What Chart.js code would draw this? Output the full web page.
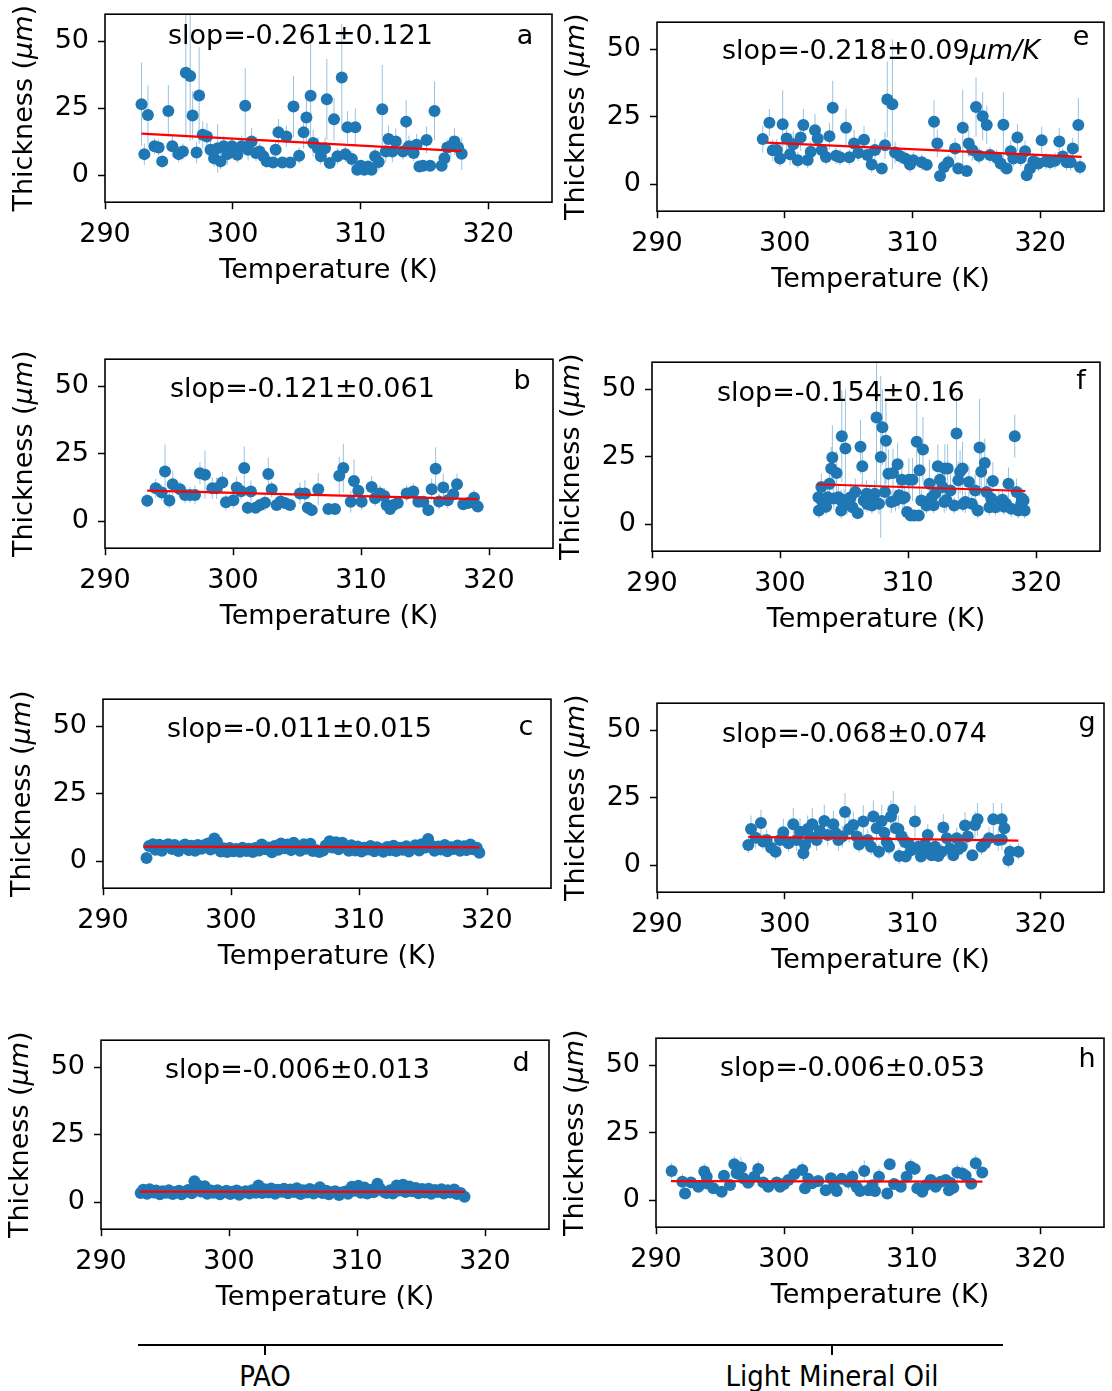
<!DOCTYPE html>
<html><head><meta charset="utf-8">
<script src="https://cdn.jsdelivr.net/npm/chart.js@4.4.0/dist/chart.umd.min.js"></script>
<style>
html,body{margin:0;padding:0;background:#fff;}
body{width:1112px;height:1391px;position:relative;overflow:hidden;}
canvas{position:absolute;}
.grp{position:absolute;font-family:"DejaVu Sans Condensed","DejaVu Sans",sans-serif;font-stretch:condensed;font-size:29px;line-height:1;color:#000;transform:translate(-50%,-50%);white-space:nowrap;}
</style></head><body>
<div style="position:absolute;left:138px;top:1344px;width:865px;height:0;border-top:2px solid #000"></div>
<div style="position:absolute;left:264px;top:1345px;width:2px;height:10px;background:#000"></div>
<div style="position:absolute;left:831px;top:1345px;width:2px;height:10px;background:#000"></div>
<div class="grp" style="left:265px;top:1376px">PAO</div>
<div class="grp" style="left:832px;top:1376px">Light Mineral Oil</div>
<script>
// ---- data: [temperature K, thickness µm, error µm] ----
const xTicks = [290, 300, 310, 320];
const yTicks = [0, 25, 50];

const aPts = [[292.86,26.5,15.5],[293.08,7.9,4],[293.36,22.5,11],[293.87,10.8,3],[294.2,10.4,3],[294.48,5.2,2],[294.96,24,9.6],[295.27,10.8,4],[295.77,7.9,3],[296.1,8.9,3],[296.33,38.2,24],[296.67,37,24],[296.86,22.3,9],[297.17,8.5,4],[297.37,29.7,18],[297.65,15.1,5],[297.98,14.5,5],[298.26,9.5,4],[298.54,6.4,3],[298.82,10.1,9],[299.05,5.2,3],[299.3,10.8,4],[299.58,7.9,4],[299.94,10.8,3],[300.36,7.7,3],[300.7,10.8,4],[300.98,25.9,14],[301.2,9.5,4],[301.48,12.6,5],[301.82,8.3,3],[302.1,8.9,3],[302.4,7.1,3],[302.66,5.2,2],[303.16,4.8,2],[303.36,9.5,3],[303.58,16,5],[303.89,4.8,2],[304.2,14.5,4],[304.5,4.8,2],[304.76,25.6,11.5],[305.2,7.3,3],[305.55,16,6],[305.77,21.5,9],[306.1,29.6,20],[306.3,12,5],[306.67,10.1,4],[306.9,7.1,3],[307.23,10.1,4],[307.37,28.3,15],[307.6,4.6,2],[307.93,20.9,8],[308.2,7.1,3],[308.54,36.4,20],[308.82,7.9,3],[308.99,17.9,6],[309.33,6.1,3],[309.6,17.9,7],[309.75,2.1,2],[310.03,3.6,2],[310.3,2.1,2],[310.6,3.3,2],[310.87,2.1,2],[311.15,7.1,3],[311.43,5,3],[311.71,24.6,16.5],[311.99,8.9,4],[312.2,13.5,5],[312.5,8.9,4],[312.77,12.6,5],[313.33,8.9,3],[313.58,20,8],[313.8,10.8,4],[314.17,8.3,3],[314.4,11.4,4],[314.62,3.3,2],[314.9,3.6,2],[315.18,13.2,5],[315.46,3.6,2],[315.8,24,11],[316.36,3.6,2],[316.58,6.4,3],[316.8,10.4,3],[317.08,10.8,4],[317.36,12.6,5],[317.65,10.4,4],[317.93,8,6]];
const aFit = [[292.86,15.5],[317.93,9.0]];

const bPts = [[293.3,7.6,2.5],[293.96,12.2,3.5],[294.43,10.6,3],[294.69,18.4,10],[295.03,7.7,3],[295.29,13.7,5],[295.86,11.8,3],[296.25,9.7,3],[296.64,9.7,3],[297.03,9.7,3.5],[297.42,17.8,4],[297.81,17.2,9],[298.38,12.2,4],[298.72,12.2,4],[299.17,14.3,4],[299.45,7,3],[300.03,7.8,3],[300.29,12.5,4],[300.63,11.1,3],[300.88,19.7,8],[301.15,5,2.5],[301.4,11,4],[301.77,5,2],[302.11,6,2],[302.5,6.8,3],[302.76,17.5,6],[303.02,11.8,3],[303.41,6,2],[303.72,7.3,3],[304.06,6.7,2],[304.45,6,2],[305.23,10.3,4],[305.62,10.3,5],[305.84,5,2],[306.15,4.1,2],[306.66,11.8,6],[307.45,4.5,2],[307.97,4.5,2],[308.3,16.8,7],[308.62,19.7,9],[309.2,7.2,4],[309.45,14.9,8],[309.79,11.3,4],[310.05,7.2,3],[310.83,12.7,4],[311.1,8.5,3],[311.48,10.3,3],[311.82,9.3,3],[312.0,6,2],[312.27,4.5,2],[312.53,6,2],[312.87,6.7,2],[313.57,10.3,3],[314.09,11,3],[314.48,7.2,2],[314.87,7.2,2],[315.26,4.1,2],[315.52,11.8,4],[315.83,19.4,8],[316.1,7.3,3],[316.43,12.5,5],[316.77,7.8,3],[317.21,10,3],[317.5,13.7,4],[317.99,6.3,2],[318.38,6.7,2],[318.83,8.7,3],[319.12,5.4,2]];
const bFit = [[293.3,11.3],[319.12,8.2]];

const cPts = [[293.4,1.2,1.0],[293.6,5.6,1.2],[293.9,6.3,1.0],[294.1,4.2,0.8],[294.4,6.1,1.1],[294.6,3.9,0.8],[294.9,5.8,1.0],[295.1,6.3,1.2],[295.4,4.5,0.9],[295.6,6.0,1.0],[295.9,3.8,0.8],[296.2,5.4,1.0],[296.4,6.2,1.1],[296.7,4.1,0.8],[296.9,5.7,1.0],[297.2,3.9,0.8],[297.4,6.0,1.1],[297.7,4.6,0.9],[297.9,5.9,1.0],[298.2,6.6,1.3],[298.4,4.3,0.9],[298.7,8.4,1.8],[298.9,7.2,1.4],[299.2,3.6,0.8],[299.4,4.8,0.9],[299.7,3.4,0.7],[299.9,4.9,0.9],[300.2,3.7,0.8],[300.4,4.5,0.9],[300.7,3.5,0.7],[300.9,5.0,1.0],[301.2,3.8,0.8],[301.4,4.6,0.9],[301.7,3.4,0.7],[301.9,4.9,1.0],[302.2,4.0,0.8],[302.4,6.2,1.3],[302.7,4.4,0.9],[302.9,5.1,1.0],[303.2,3.3,0.7],[303.4,5.6,1.1],[303.7,4.2,0.8],[303.9,6.6,1.3],[304.2,4.8,0.9],[304.4,6.2,1.2],[304.7,4.1,0.8],[304.9,6.8,1.4],[305.2,5.2,1.0],[305.4,3.9,0.8],[305.7,6.3,1.2],[305.9,4.6,0.9],[306.2,6.5,1.3],[306.4,3.8,0.8],[306.7,4.1,0.8],[306.9,3.4,0.7],[307.2,4.0,0.8],[307.4,5.8,1.1],[307.7,7.4,1.5],[307.9,5.1,1.0],[308.2,7.0,1.4],[308.4,4.4,0.9],[308.7,6.8,1.3],[308.9,5.5,1.1],[309.2,3.9,0.8],[309.4,5.9,1.1],[309.7,4.0,0.8],[309.9,5.4,1.0],[310.2,3.6,0.7],[310.4,5.0,1.0],[310.7,4.3,0.9],[310.9,5.6,1.1],[311.2,3.7,0.8],[311.4,5.2,1.0],[311.7,4.5,0.9],[311.9,3.5,0.7],[312.2,5.3,1.0],[312.4,4.1,0.8],[312.7,5.7,1.1],[312.9,3.8,0.8],[313.2,5.0,1.0],[313.4,4.2,0.8],[313.7,5.5,1.1],[313.9,3.6,0.7],[314.2,4.9,1.0],[314.4,5.9,1.2],[314.7,4.0,0.8],[314.9,6.3,1.3],[315.2,5.1,1.0],[315.4,8.2,1.8],[315.7,5.6,1.1],[315.9,3.9,0.8],[316.2,5.4,1.0],[316.4,4.3,0.9],[316.7,6.0,1.2],[316.9,3.7,0.8],[317.2,5.2,1.0],[317.4,4.5,0.9],[317.7,5.8,1.1],[317.9,3.9,0.8],[318.2,5.5,1.1],[318.4,4.1,0.8],[318.7,6.2,1.2],[318.9,4.4,0.9],[319.2,5.0,1.0],[319.4,3.1,0.8]];
const cFit = [[293.15,5.4],[319.4,5.1]];

const dPts = [[293.1,3.4,1],[293.3,4.6,1],[293.6,3.1,0.8],[293.8,4.8,1],[294.1,3.6,0.8],[294.3,4.3,1],[294.6,2.9,0.8],[294.8,4.1,1],[295.1,3.5,0.8],[295.3,4.4,1],[295.6,3.0,0.8],[295.8,3.8,0.9],[296.1,4.2,1],[296.3,2.9,0.8],[296.6,3.9,0.9],[296.8,4.5,1],[297.1,3.3,0.8],[297.3,7.8,1.6],[297.6,6.2,1.3],[297.8,4.0,0.9],[298.1,5.9,1.2],[298.3,3.1,0.8],[298.6,4.3,1],[298.8,3.5,0.8],[299.1,4.4,1],[299.3,2.9,0.8],[299.6,3.7,0.9],[299.8,4.2,1],[300.1,3.0,0.8],[300.3,3.9,0.9],[300.6,4.3,1],[300.8,2.8,0.8],[301.1,3.6,0.9],[301.3,4.1,1],[301.6,3.2,0.8],[301.8,4.4,1],[302.1,3.5,0.8],[302.3,6.2,1.3],[302.6,3.4,0.8],[302.8,4.8,1],[303.1,3.6,0.8],[303.3,5.1,1.1],[303.6,3.1,0.8],[303.8,4.6,1],[304.1,3.9,0.9],[304.3,5.0,1.1],[304.6,3.3,0.8],[304.8,4.7,1],[305.1,3.8,0.9],[305.3,5.2,1.1],[305.6,3.0,0.8],[305.8,4.4,1],[306.1,3.6,0.8],[306.3,4.9,1],[306.6,3.2,0.8],[306.8,4.5,1],[307.1,5.5,1.2],[307.3,3.4,0.8],[307.6,4.2,1],[307.8,2.9,0.8],[308.1,3.8,0.9],[308.3,4.1,1],[308.6,2.7,0.8],[308.8,3.6,0.9],[309.1,4.0,0.9],[309.3,3.1,0.8],[309.6,5.7,1.2],[309.8,4.2,1],[310.1,6.1,1.3],[310.3,3.5,0.8],[310.6,5.4,1.1],[310.8,3.2,0.8],[311.1,4.6,1],[311.3,3.7,0.9],[311.6,6.8,1.4],[311.8,5.0,1.1],[312.1,3.9,0.9],[312.3,3.4,0.8],[312.6,4.4,1],[312.8,3.2,0.8],[313.1,6.2,1.3],[313.3,4.3,1],[313.6,6.5,1.3],[313.8,3.8,0.9],[314.1,5.8,1.2],[314.3,4.1,1],[314.6,5.3,1.1],[314.8,3.3,0.8],[315.1,4.9,1],[315.3,3.6,0.8],[315.6,5.0,1.1],[315.8,3.1,0.8],[316.1,4.5,1],[316.3,3.8,0.9],[316.6,4.8,1],[316.8,3.2,0.8],[317.1,4.4,1],[317.3,3.6,0.8],[317.6,4.7,1],[317.8,3.0,0.8],[318.1,3.4,0.8],[318.4,2.0,0.8]];
const dFit = [[293.05,3.95],[318.4,3.8]];

const ePts = [[298.28,16.7,5],[298.8,22.8,5],[299.06,12.6,4],[299.37,12.7,4],[299.63,9.5,3],[299.84,22.2,12.6],[300.15,16.9,5],[300.42,11.1,4],[300.67,14.8,5],[301.02,8.9,3],[301.25,17.3,5],[301.46,21.9,6],[301.8,9,3],[302.04,12,4],[302.37,20,6],[302.58,16.9,5],[302.9,12.7,4],[303.23,10.1,3],[303.5,17.8,5],[303.76,28.3,10],[304.02,10.5,3],[304.33,10,3],[304.8,20.9,7],[305.06,10,3],[305.43,15.1,5],[305.76,11.6,3],[306.21,16.5,5],[306.47,10.8,3],[306.81,7.3,3],[307.07,12.7,4],[307.6,5.8,2],[307.85,14.4,5],[308.03,31.4,14],[308.43,29.6,24],[308.64,11.7,4],[309.03,10.4,3],[309.42,9.5,3],[309.81,7.3,3],[310.07,8.9,3],[310.73,8.1,3],[311.12,7.2,2],[311.69,23.1,8],[311.95,15.1,5],[312.16,3,2],[312.47,6.4,2],[312.81,8.1,3],[313.34,13.2,4],[313.59,5.8,2],[313.94,20.9,14],[314.25,4.9,2],[314.41,15.1,5],[314.69,12.7,4],[314.98,28.6,11],[315.22,10.5,3],[315.5,25.2,9],[315.82,21.9,7],[316.08,10.8,3],[316.6,9.8,3],[316.91,7.7,3],[317.12,22,12],[317.38,5.8,2],[317.7,12.2,4],[317.9,9.5,3],[318.22,17.3,5],[318.48,9.6,3],[318.82,12.2,4],[318.95,3.3,2],[319.21,5.8,2],[319.47,8.5,3],[319.86,7.7,3],[320.12,16.3,5],[320.46,8.5,3],[320.78,8.1,3],[321.17,8.7,3],[321.5,15.8,5],[321.77,10.3,3],[322.08,8.1,3],[322.39,8.1,3],[322.55,13.2,4],[322.99,21.9,10],[323.12,6.4,3]];
const eFit = [[298.59,15.4],[323.26,10.1]];

const fPts = [[303.0,10,4],[303.04,5.1,3],[303.23,13.8,5],[303.3,8.5,4],[303.45,8.2,4],[303.6,6.5,3],[303.73,10,5],[303.87,15,6],[304.0,20.6,8],[304.09,24.7,12],[304.2,9.5,4],[304.42,19,8],[304.56,10,5],[304.78,8.8,4],[304.83,32.6,17],[304.78,5.1,3],[305.0,9.0,4],[305.11,28,22],[305.25,7.6,4],[305.52,10,5],[305.66,6.3,3],[305.88,11.9,5],[306.07,4.1,2],[306.29,28.7,10],[306.43,21.5,7],[306.54,8.8,4],[306.76,11.3,5],[306.8,7.5,3],[306.96,9.1,4],[307.0,10.5,4],[307.18,6.9,3],[307.4,11.3,5],[307.54,39.5,25],[307.73,7.6,4],[307.87,24.9,30],[308.0,35.9,14],[308.2,11.9,5],[308.28,30.9,16],[308.47,18.7,9],[308.69,8.2,4],[308.83,19,9],[309.02,8.8,4],[309.19,22.2,8],[309.3,10.7,5],[309.52,16.5,7],[309.6,9.5,4],[309.74,10,5],[309.93,4.5,2],[310.07,16.5,8],[310.21,3.2,2],[310.35,16.5,8],[310.49,3.2,2],[310.68,30.5,15],[310.84,3.2,2],[310.9,20,9],[311.04,8.8,4],[311.17,27.7,12],[311.45,6.9,3],[311.67,15,9],[311.86,10,5],[312.0,7.0,3],[312.14,11.5,5],[312.33,21.5,8],[312.5,16.5,7],[312.69,13.8,6],[312.83,8.2,4],[312.88,20.6,9],[313.0,9.0,4],[313.1,20.6,9],[313.32,12.5,6],[313.6,6.9,3],[313.79,33.6,14],[313.93,16.3,7],[314.07,19.4,8],[314.26,20.6,10],[314.3,7.5,3],[314.48,8.2,4],[314.76,15.6,6],[314.98,7.6,3],[315.25,12.5,6],[315.45,5.1,3],[315.59,28.4,18],[315.72,19.4,8],[316.0,22.7,9],[316.14,11.9,5],[316.36,6.3,3],[316.5,9.5,4],[316.63,16,7],[316.83,6.3,3],[317.1,8.2,4],[317.38,9.1,4],[317.5,6.5,3],[317.65,7.6,3],[317.85,15,6],[318.07,5.7,3],[318.34,32.6,8],[318.48,11.9,5],[318.62,5.1,3],[318.84,7.6,3],[318.9,9.5,4],[319.03,8.8,4],[319.11,5.1,3]];
const fFit = [[302.9,14.8],[319.17,12.3]];

const gPts = [[297.15,7.5,3],[297.36,13.4,5],[297.73,10.2,4],[298.14,15.6,5],[298.3,8.8,3],[298.59,9.3,4],[298.93,6.5,3],[299.29,5,3],[299.63,9.3,4],[299.89,12.2,5],[300.3,8.1,3],[300.67,15.2,6],[300.94,9.3,4],[301.2,12.4,5],[301.46,4.4,3],[301.59,7.5,4],[301.8,13.4,5],[302.0,10.5,4],[302.16,15.2,6],[302.5,9.3,4],[302.76,12.7,5],[303.1,16.4,6],[303.37,11.2,4],[303.81,15.2,5],[304.0,11.8,4],[304.2,9.3,4],[304.51,10.6,4],[304.72,19.7,7],[305.04,13.4,5],[305.37,14.9,5],[305.64,10.6,4],[305.82,7.7,3],[306.0,8.8,3],[306.15,16.2,6],[306.5,9.3,4],[306.76,6.8,3],[306.94,18,6],[307.2,13.7,5],[307.38,5,3],[307.6,16.4,6],[307.8,12,5],[307.99,8.6,4],[308.17,6.8,3],[308.32,18,6],[308.5,20.5,7],[308.7,13.7,5],[308.9,13.4,5],[308.96,3.4,3],[309.16,10.6,4],[309.42,8.6,4],[309.47,3.2,2],[309.68,8.1,3],[309.9,5.5,3],[310.2,16.2,6],[310.46,6.8,3],[310.67,3.2,2],[310.99,7.7,3],[311.0,5.0,3],[311.2,11.2,4],[311.51,3.7,2],[311.77,6.8,3],[312.03,3.4,2],[312.29,5,3],[312.42,14,5],[312.69,10,4],[312.95,6.2,3],[313.2,3.7,2],[313.47,10,4],[313.6,6.0,3],[313.86,6.8,3],[314.12,14.7,5],[314.33,10.6,4],[314.69,3.7,2],[314.9,14.9,5],[315.1,17,6],[315.42,6.8,3],[315.68,8.1,3],[316.0,10.0,4],[316.33,17,6],[316.72,9.3,4],[316.99,17,6],[317.0,9.5,4],[317.2,13.7,5],[317.51,1.9,3],[317.64,5,3],[318.3,5,3]];
const gFit = [[297.15,10.5],[318.3,9.1]];

const hPts = [[291.22,10.8,3],[292.06,6.8,3],[292.27,2.5,2],[292.73,6.6,2],[293.31,5,2],[293.77,10.6,3],[293.96,8.7,3],[294.0,6.2,2],[294.48,4.4,2],[295.13,3.1,2],[295.31,9.1,2],[295.78,5.6,2],[296.12,13.3,3],[296.3,10.0,3],[296.64,12.1,4],[296.82,8.1,2],[297.2,6.5,2],[297.68,8.7,3],[297.99,11.6,3],[298.38,6.6,2],[298.77,5,2],[299.43,6.6,2],[299.69,5,2],[300.0,6.0,2],[300.34,7.5,2],[300.8,9.6,2],[301.43,11.2,3],[301.64,4.4,2],[301.9,7.9,2],[302.2,6.3,2],[302.68,7.1,2],[303.26,3.7,2],[303.67,8.1,2],[303.9,5.2,2],[304.12,3.4,2],[304.51,7.9,2],[305.02,6.8,3],[305.34,8.7,3],[305.68,4.9,2],[305.94,3.4,2],[306.27,10.8,4],[306.59,3.7,2],[306.9,5.5,2],[307.11,3.4,2],[307.42,8.7,3],[308.07,2.5,2],[308.26,13.3,2],[308.6,6.0,2],[309.12,5,2],[309.58,8.7,3],[309.9,12.4,3],[310.21,11.6,2],[310.41,4.4,2],[310.8,3.1,2],[311.1,5.5,2],[311.46,7.5,2],[311.85,5,2],[312.24,6.8,2],[312.63,7.5,2],[312.89,3.7,2],[313.0,6.5,2],[313.23,4.6,2],[313.54,10.3,3],[313.93,9.9,3],[314.19,9.1,2],[314.63,6.1,2],[314.98,13.7,3],[315.49,10.3,2]];
const hFit = [[291.17,7.1],[315.5,6.9]];

// ---- layout (pixel boxes of the plot areas) ----
const panels = [
  {pts:aPts, fit:aFit, box:[105,14,552,202],  slope:'slop=-0.261±0.121', unit:'', sx:63, sy:23, letter:'a', lx:-27, ly:23},
  {pts:bPts, fit:bFit, box:[105,359,553,548], slope:'slop=-0.121±0.061', unit:'', sx:65, sy:31, letter:'b', lx:-31, ly:23},
  {pts:cPts, fit:cFit, box:[103,699,551,888], slope:'slop=-0.011±0.015', unit:'', sx:64, sy:31, letter:'c', lx:-25, ly:29},
  {pts:dPts, fit:dFit, box:[101,1040,549,1229], slope:'slop=-0.006±0.013', unit:'', sx:64, sy:31, letter:'d', lx:-28, ly:24},
  {pts:ePts, fit:eFit, box:[657,22,1104,211], slope:'slop=-0.218±0.09', unit:'μm/K', sx:65, sy:30, letter:'e', lx:-23, ly:16},
  {pts:fPts, fit:fFit, box:[652,362,1100,551], slope:'slop=-0.154±0.16', unit:'', sx:65, sy:32, letter:'f', lx:-19, ly:20},
  {pts:gPts, fit:gFit, box:[657,703,1104,892], slope:'slop=-0.068±0.074', unit:'', sx:65, sy:32, letter:'g', lx:-17, ly:21},
  {pts:hPts, fit:hFit, box:[656,1038,1104,1227], slope:'slop=-0.006±0.053', unit:'', sx:64, sy:31, letter:'h', lx:-17, ly:22}
];

const FONT = '"DejaVu Sans", sans-serif';
const FS = 27;
const PADL = 100, PADT = 12, PADR = 14, PADB = 92;

const decor = {
  id: 'decor',
  afterDraw(chart, args, o) {
    const {ctx, chartArea: {left, top, right, bottom}} = chart;
    ctx.save();
    ctx.strokeStyle = '#000'; ctx.lineWidth = 1.6;
    ctx.strokeRect(left, top, right - left, bottom - top);
    ctx.fillStyle = '#000';
    ctx.textBaseline = 'middle';
    ctx.textAlign = 'left';
    ctx.font = `${FS}px ${FONT}`;
    ctx.fillText(o.slope, left + o.sx, top + o.sy);
    if (o.unit) {
      const w = ctx.measureText(o.slope).width;
      ctx.font = `italic ${FS}px ${FONT}`;
      ctx.fillText(o.unit, left + o.sx + w, top + o.sy);
    }
    ctx.font = `${FS}px ${FONT}`;
    ctx.textAlign = 'center';
    ctx.fillText(o.letter, right + o.lx, top + o.ly);
    // y-axis title with italic unit
    const parts = [['Thickness (', ''], ['μm', 'italic '], [')', '']];
    let total = 0;
    parts.forEach(p => { ctx.font = `${p[1]}${FS}px ${FONT}`; p.push(ctx.measureText(p[0]).width); total += p[2]; });
    ctx.translate(left - 80, (top + bottom) / 2);
    ctx.rotate(-Math.PI / 2);
    ctx.textAlign = 'left';
    let x = -total / 2;
    parts.forEach(p => { ctx.font = `${p[1]}${FS}px ${FONT}`; ctx.fillText(p[0], x, 0); x += p[2]; });
    ctx.restore();
  }
};

panels.forEach(p => {
  const [bl, bt, br, bb] = p.box;
  const W = br - bl, H = bb - bt;
  const cv = document.createElement('canvas');
  let cw = W + PADL + PADR, ch = H + PADT + PADB;
  cv.width = cw; cv.height = ch;
  cv.style.left = (bl - PADL) + 'px';
  cv.style.top = (bt - PADT) + 'px';
  cv.style.width = cw + 'px';
  cv.style.height = ch + 'px';
  document.body.appendChild(cv);

  const errData = [];
  p.pts.forEach(([x, y, e]) => {
    errData.push({x, y: y - e}, {x, y: y + e}, {x, y: null});
  });

  const chart = new Chart(cv, {
    type: 'scatter',
    data: {
      datasets: [
        {data: p.fit.map(([x, y]) => ({x, y})), showLine: true, borderColor: '#ff0000', borderWidth: 2.2, pointRadius: 0, order: 1},
        {data: p.pts.map(([x, y]) => ({x, y})), backgroundColor: '#1f77b4', borderWidth: 0, pointRadius: 6, order: 2},
        {data: errData, showLine: true, spanGaps: false, borderColor: 'rgba(31,119,180,0.45)', borderWidth: 1, pointRadius: 0, order: 3}
      ]
    },
    options: {
      responsive: false, maintainAspectRatio: false, animation: false, devicePixelRatio: 1, events: [],
      layout: {autoPadding: false, padding: {left: 0, top: PADT, right: PADR, bottom: 0}},
      plugins: {legend: {display: false}, tooltip: {enabled: false}, decor: p},
      scales: {
        x: {
          type: 'linear', min: 290, max: 325,
          afterBuildTicks: s => { s.ticks = xTicks.map(v => ({value: v})); },
          afterFit: s => { s.height = PADB; },
          grid: {display: true, drawOnChartArea: false, drawTicks: true, tickLength: 7, tickWidth: 1.5, tickColor: '#000'},
          border: {display: false},
          ticks: {color: '#000', font: {family: FONT, size: FS}, padding: 10, maxRotation: 0, autoSkip: false},
          title: {display: true, text: 'Temperature (K)', color: '#000', font: {family: FONT, size: FS}, padding: {top: 0, bottom: 7}}
        },
        y: {
          type: 'linear', min: -10, max: 60,
          afterBuildTicks: s => { s.ticks = yTicks.map(v => ({value: v})); },
          afterFit: s => { s.width = PADL; },
          grid: {display: true, drawOnChartArea: false, drawTicks: true, tickLength: 7, tickWidth: 1.5, tickColor: '#000'},
          border: {display: false},
          ticks: {color: '#000', font: {family: FONT, size: FS}, padding: 9},
          title: {display: false}
        }
      }
    },
    plugins: [decor]
  });

  // place the canvas so that the plot area lands on its box
  const ca = chart.chartArea;
  const extraTop = ca.top - PADT;
  const dh = H - (ca.bottom - ca.top);
  if (Math.abs(extraTop) > 0.5 || Math.abs(dh) > 0.5) {
    ch += dh;
    chart.resize(cw, ch);
    const ca2 = chart.chartArea;
    cv.style.top = (bt - ca2.top) + 'px';
    cv.style.left = (bl - ca2.left) + 'px';
  }
});
</script>
</body></html>
